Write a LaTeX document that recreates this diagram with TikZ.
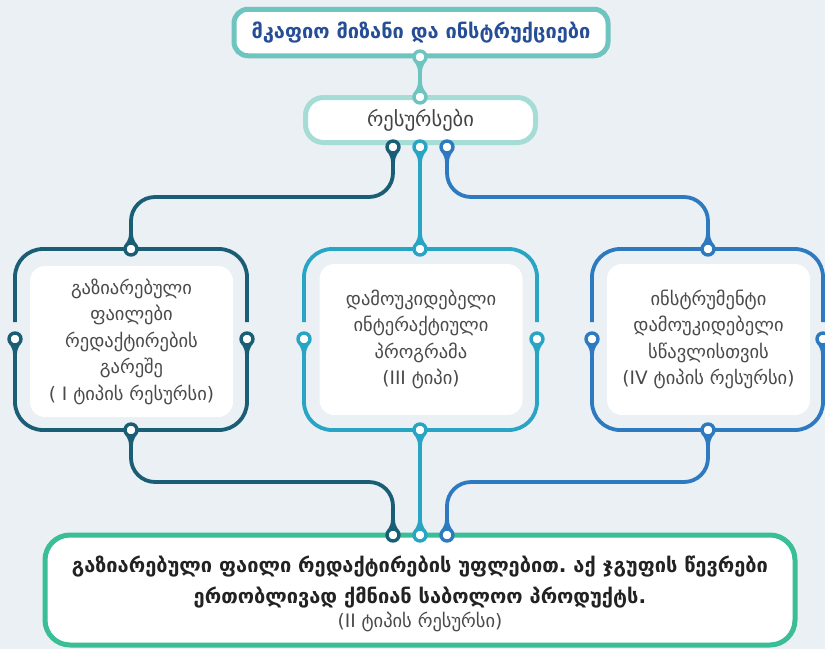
\documentclass[tikz,border=0pt]{standalone}
\usepackage{fontspec}
\setmainfont{DejaVu Sans}
\usetikzlibrary{calc}
\frenchspacing
\definecolor{bgc}{HTML}{EAF0F3}
\definecolor{topc}{HTML}{6EC4BE}
\definecolor{resc}{HTML}{A6DCD6}
\definecolor{titlec}{HTML}{264E96}
\definecolor{dkc}{HTML}{1A5E76}
\definecolor{mdc}{HTML}{28A4C4}
\definecolor{blc}{HTML}{2E7AC0}
\definecolor{grc}{HTML}{3ABE96}
\definecolor{txtc}{HTML}{4A4A4A}
\definecolor{boldc}{HTML}{222222}

% pin marker: circle with a tapered tail; #1 point, #2 colour, #3 tail direction
\newcommand\drawpin[3]{%
  \fill[#2] ($(#1)+(#3+58:7)$) .. controls ($(#1)+(#3:11)+(#3+90:2.2)$) .. ($(#1)+(#3:16)+(#3+90:1.9)$)
    -- ($(#1)+(#3:16)+(#3-90:1.9)$) .. controls ($(#1)+(#3:11)+(#3-90:2.2)$) .. ($(#1)+(#3-58:7)$) -- cycle;
  \draw[#2, line width=3.4pt, fill=white] (#1) circle (6);
}
% bracket frame round a card, open beside the side pins
\newcommand\cardframe[3]{%
  \draw[#3, line width=3.8pt, rounded corners=28] (#1,322) -- (#1,249) -- (#2,249) -- (#2,322);
  \draw[#3, line width=3.8pt, rounded corners=28] (#1,339) -- (#1,430) -- (#2,430) -- (#2,339);
}

\begin{document}
\begin{tikzpicture}[x=1pt, y=-1pt,
  conn/.style={line width=3.8pt},
  card/.style={fill=white, rounded corners=15, minimum width=203pt, minimum height=151pt,
    inner sep=0pt, align=center, text=txtc, font=\fontsize{18.5}{26.5}\selectfont},
]
\fill[bgc] (0,0) rectangle (825,649);
\useasboundingbox (0,0) rectangle (825,649);

% headline and resources boxes
\node[draw=topc, line width=5pt, rounded corners=14, fill=white, minimum width=374pt,
  minimum height=46.5pt, inner sep=0pt, text=titlec,
  font=\bfseries\fontsize{20}{24}\selectfont] (goal) at (421,32.5) {მკაფიო მიზანი და ინსტრუქციები};
\node[draw=resc, line width=5pt, rounded corners=18, fill=white, minimum width=230pt,
  minimum height=45pt, inner sep=0pt, text=boldc!85,
  font=\fontsize{20.5}{24}\selectfont] (res) at (420.5,120) {\raisebox{-2pt}{რესურსები}};

% pin points
\coordinate (gB) at (420,57);
\coordinate (rT) at (420,97);
\coordinate (r1) at (393,147);
\coordinate (r2) at (420,147);
\coordinate (r3) at (447,147);
\coordinate (lT) at (131,249);  \coordinate (lB) at (131,430);
\coordinate (lL) at (15,339);   \coordinate (lR) at (247,339);
\coordinate (mT) at (420,249);  \coordinate (mB) at (420,430);
\coordinate (mL) at (304,339);  \coordinate (mR) at (537,339);
\coordinate (qT) at (708,249);  \coordinate (qB) at (708,430);
\coordinate (qL) at (592,339);  \coordinate (qR) at (823,339);
\coordinate (f1) at (393,535);
\coordinate (f2) at (420,535);
\coordinate (f3) at (447,535);

% card frames
\cardframe{15}{247}{dkc}
\cardframe{304}{537}{mdc}
\cardframe{592}{823}{blc}

% cards
\node[card] (cl) at (131.5,341.5) {გაზიარებული\\ფაილები\\რედაქტირების\\გარეშე\\( I ტიპის რესურსი)};
\node[card] (cm) at (421,339.5) {დამოუკიდებელი\\ინტერაქტიული\\პროგრამა\\(III ტიპი)};
\node[card] (cr) at (708.5,339.5) {ინსტრუმენტი\\დამოუკიდებელი\\სწავლისთვის\\(IV ტიპის რესურსი)};

% final box
\node[draw=grc, line width=5pt, rounded corners=25, fill=white, minimum width=750pt,
  minimum height=110pt, inner sep=0pt] (fin) at (420,590) {};
\node[text=boldc, align=center, font=\bfseries\fontsize{20}{31}\selectfont] (fintext) at (420,582)
  {გაზიარებული ფაილი რედაქტირების უფლებით. აქ ჯგუფის წევრები\\ერთობლივად ქმნიან საბოლოო პროდუქტს.};
\node[text=txtc, font=\fontsize{18.5}{22}\selectfont] (fintype) at (420,622) {(II ტიპის რესურსი)};

% connectors
\draw[conn, topc] (gB) -- (rT);
\draw[conn, dkc, rounded corners=24] (r1) -- ++(0,50) -| (lT);
\draw[conn, mdc] (r2) -- (mT);
\draw[conn, blc, rounded corners=24] (r3) -- ++(0,50) -| (qT);
\draw[conn, dkc, rounded corners=24] (lB) -- ++(0,52) -| (f1);
\draw[conn, mdc] (mB) -- (f2);
\draw[conn, blc, rounded corners=24] (qB) -- ++(0,52) -| (f3);

% pins
\drawpin{gB}{topc}{90}
\drawpin{rT}{topc}{-90}
\drawpin{r1}{dkc}{90}
\drawpin{r2}{mdc}{90}
\drawpin{r3}{blc}{90}
\drawpin{lT}{dkc}{-90} \drawpin{lB}{dkc}{90} \drawpin{lL}{dkc}{90} \drawpin{lR}{dkc}{90}
\drawpin{mT}{mdc}{-90} \drawpin{mB}{mdc}{90} \drawpin{mL}{mdc}{90} \drawpin{mR}{mdc}{90}
\drawpin{qT}{blc}{-90} \drawpin{qB}{blc}{90} \drawpin{qL}{blc}{90} \drawpin{qR}{blc}{90}
\drawpin{f1}{dkc}{-90}
\drawpin{f2}{mdc}{-90}
\drawpin{f3}{blc}{-90}
\end{tikzpicture}
\end{document}
